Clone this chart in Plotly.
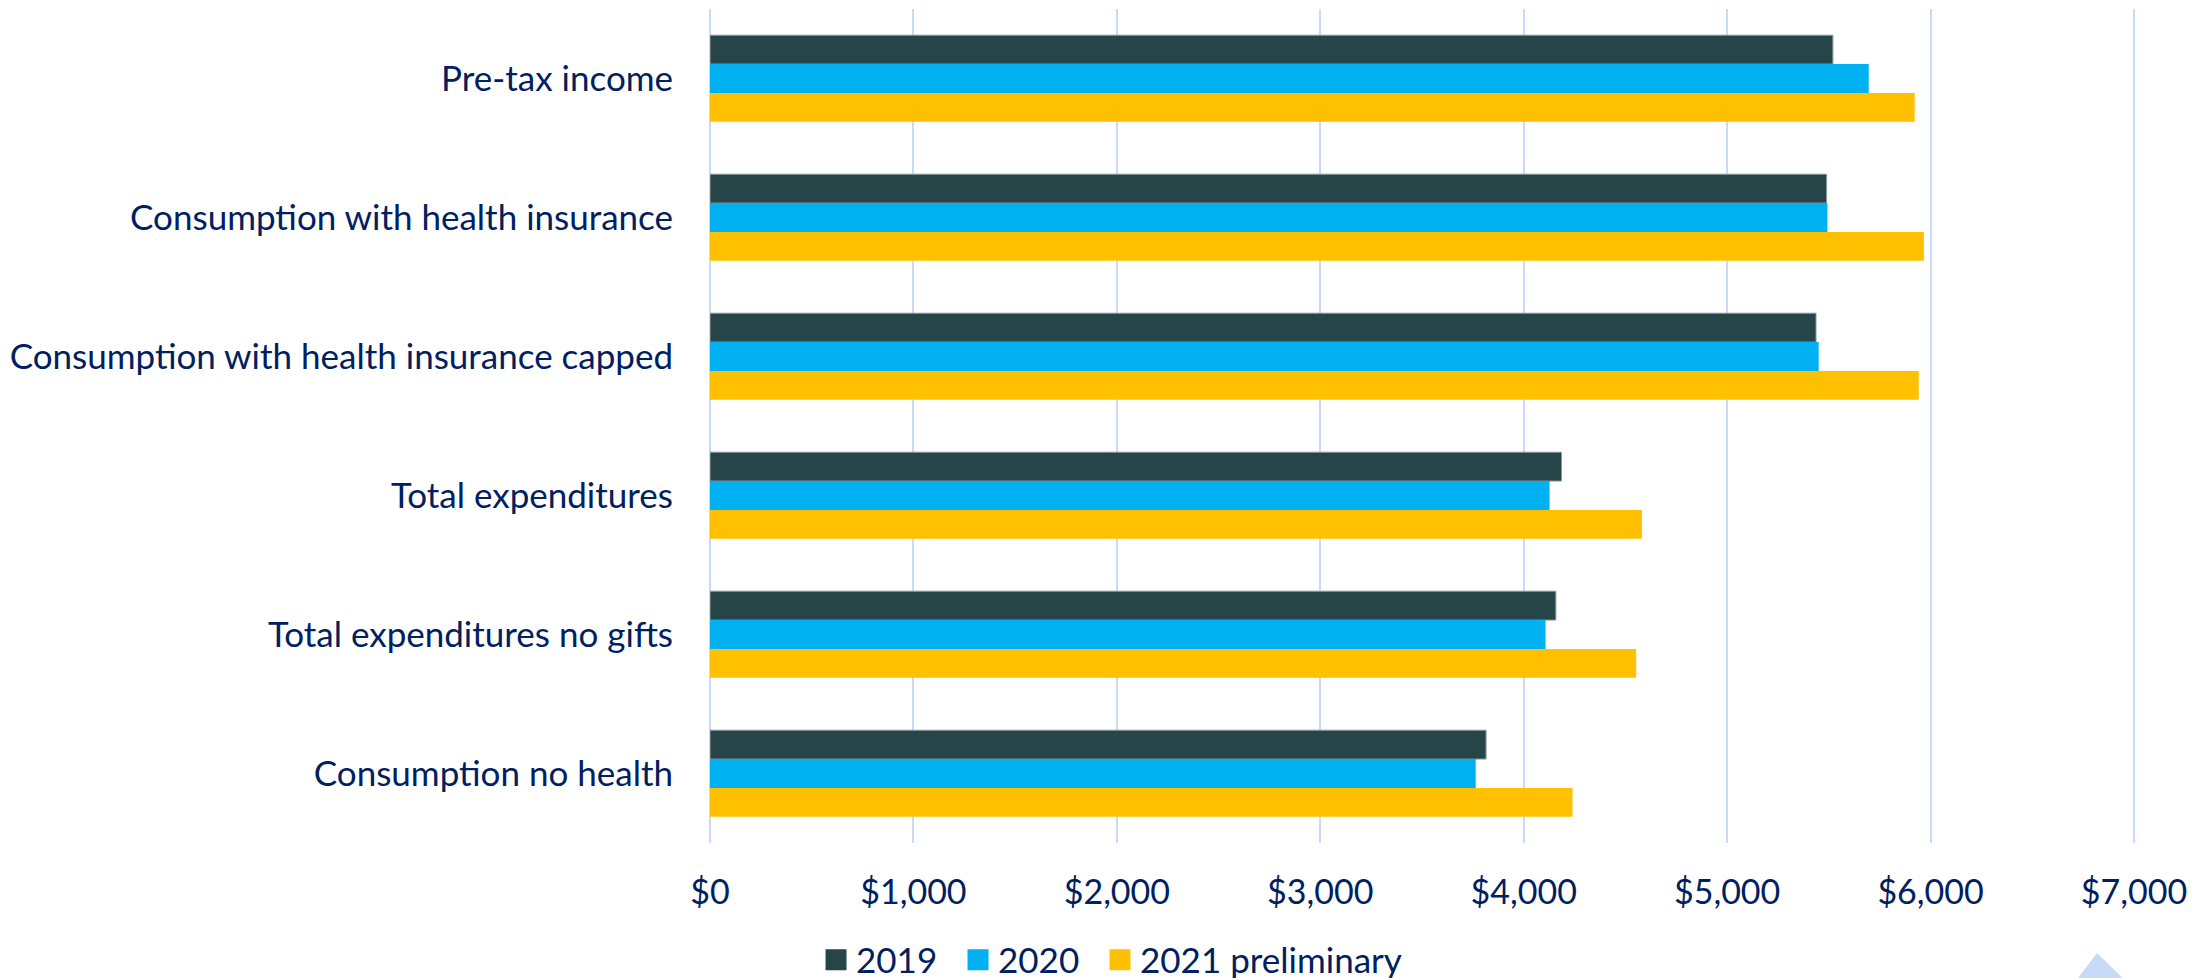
import plotly.graph_objects as go

categories = [
    "Pre-tax income",
    "Consumption with health insurance",
    "Consumption with health insurance capped",
    "Total expenditures",
    "Total expenditures no gifts",
    "Consumption no health",
]
series_names = ["2019", "2020", "2021 preliminary"]
values_2019 = [5520, 5489, 5437, 4186, 4158, 3815]
values_2020 = [5696, 5493, 5450, 4127, 4107, 3764]
values_2021 = [5922, 5967, 5942, 4581, 4553, 4240]
series_values = [values_2019, values_2020, values_2021]
colors = ["#264548", "#00B0F0", "#FFC000"]
edge_colors = ["#8C9C9E", "#00B0F0", "#FFC000"]
edge_widths = [1, 0, 0]

tick_vals = [0, 1000, 2000, 3000, 4000, 5000, 6000, 7000]
tick_text = ["$0", "$1,000", "$2,000", "$3,000", "$4,000", "$5,000", "$6,000", "$7,000"]

FONT = "Lato"
TEXT_COLOR = "#002060"
GRID = "#C9DAF8"

fig = go.Figure()
for name, vals, c, ec, ew in zip(series_names, series_values, colors, edge_colors, edge_widths):
    fig.add_trace(go.Bar(
        y=categories, x=vals, name=name, orientation="h",
        marker=dict(color=c, line=dict(color=ec, width=ew)),
        showlegend=False, legendgroup=name,
    ))
# legend entries (square swatches)
for name, c in zip(series_names, colors):
    fig.add_trace(go.Scatter(
        x=[None], y=[None], mode="markers", name=name, legendgroup=name,
        marker=dict(symbol="square", size=16, color=c, line=dict(color=c, width=5)),
        showlegend=True,
    ))
# invisible spacer entries so the last legend label is not clipped
for _ in range(2):
    fig.add_trace(go.Scatter(
        x=[None], y=[None], mode="markers", name=" ",
        marker=dict(symbol="square", size=16, color="rgba(0,0,0,0)", line=dict(width=0)),
        showlegend=True, hoverinfo="skip",
    ))

fig.update_layout(
    width=2208, height=978,
    margin=dict(l=702, r=81, t=1, b=143, pad=0, autoexpand=False),
    paper_bgcolor="white", plot_bgcolor="white",
    barmode="group", bargap=0.377, bargroupgap=0,
    font=dict(family=FONT, size=35, color=TEXT_COLOR),
    showlegend=True,
    legend=dict(
        orientation="h", x=0.0744, xanchor="left", y=-0.1403, yanchor="middle",
        font=dict(family=FONT, size=35, color=TEXT_COLOR),
        itemwidth=30, entrywidth=97, entrywidthmode="pixels",
        traceorder="normal", bgcolor="rgba(0,0,0,0)", itemsizing="trace",
        itemclick=False, itemdoubleclick=False,
    ),
    shapes=[dict(
        type="path", xref="paper", yref="paper",
        path="M 0.9558 -0.1715 L 0.9733 -0.1319 L 0.9972 -0.1715 Z",
        fillcolor=GRID, line=dict(width=0), layer="above",
    )],
)
fig.update_xaxes(
    range=[0, 7005], tickvals=tick_vals, ticktext=tick_text,
    showgrid=True, gridcolor=GRID, gridwidth=2,
    zeroline=True, zerolinecolor=GRID, zerolinewidth=2,
    showline=False, ticks="", ticklabelstandoff=26, automargin=False,
    tickfont=dict(family=FONT, size=34, color=TEXT_COLOR),
)
fig.update_yaxes(
    categoryorder="array", categoryarray=categories, autorange="reversed",
    showgrid=False, zeroline=False, showline=False, ticks="",
    ticklabelstandoff=36, automargin=False,
    tickfont=dict(family=FONT, size=35, color=TEXT_COLOR),
)

fig.write_html("out.html")
